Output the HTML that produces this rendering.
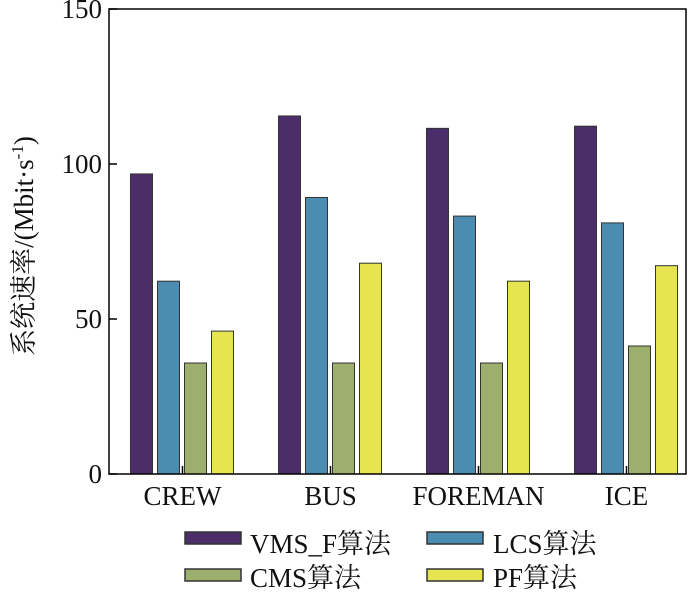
<!DOCTYPE html>
<html><head><meta charset="utf-8"><style>
body{margin:0;background:#fff;width:700px;height:589px;overflow:hidden}
text{font-family:"Liberation Serif","Noto Serif CJK SC",serif;fill:#111}
</style></head><body>
<svg id="chart" width="700" height="589" xmlns="http://www.w3.org/2000/svg"></svg>
<script>
const categories=["CREW","BUS","FOREMAN","ICE"];
const seriesNames=["VMS_F算法","LCS算法","CMS算法","PF算法"];
const vmsValues=[96.8,115.5,111.5,112.2];
const lcsValues=[62.2,89.2,83.2,81];
const cmsValues=[35.8,35.8,35.8,41.3];
const pfValues=[46.1,68,62.2,67.2];
const yTicks=[0,50,100,150];
const colors=["#4b2d69","#4b8cb0","#9caf6c","#e6e450"];
const allSeries=[vmsValues,lcsValues,cmsValues,pfValues];
const NS="http://www.w3.org/2000/svg";
const svg=document.getElementById('chart');
const L=109,R=686,T=9,B=474;
const y=v=>B-(v/150)*(B-T);
const xc=i=>182.5+i*148;
function mk(t,a){const e=document.createElementNS(NS,t);for(const k in a)e.setAttribute(k,a[k]);svg.appendChild(e);return e;}
allSeries.forEach((s,si)=>{s.forEach((v,ci)=>{
 const x=xc(ci)-52+si*27;
 const r=mk('rect',{x:x,y:y(v),width:22,height:B-y(v),fill:colors[si],stroke:'#333','stroke-width':1});
 
 
});});
const box=mk('rect',{x:L,y:T,width:R-L,height:B-T,fill:'none',stroke:'#000','stroke-width':1.5});

yTicks.forEach(t=>{
 mk('line',{x1:L,x2:L+8,y1:y(t),y2:y(t),stroke:'#000','stroke-width':1.5});
 const tx=mk('text',{x:L-7,y:y(t)+9,'text-anchor':'end','font-size':27});tx.textContent=t;
 
});
categories.forEach((c,i)=>{
 mk('line',{x1:xc(i),x2:xc(i),y1:B,y2:B-8,stroke:'#000','stroke-width':1.5});
 const tx=mk('text',{x:xc(i),y:505,'text-anchor':'middle','font-size':27});tx.textContent=c;
 
});
const yt=mk('text',{x:0,y:0,'text-anchor':'middle','font-size':27,transform:'translate(33,246) rotate(-90)'});
yt.innerHTML='系统速率/(Mbit·s<tspan dy="-10" font-size="17">-1</tspan><tspan dy="10">)</tspan>';

const lp=[[185,250,532,553],[427,493,532,553],[185,250,569,587],[427,493,569,587]];
seriesNames.forEach((n,i)=>{
 const [bx,tx,ly,tb]=lp[i];
 const r=mk('rect',{x:bx,y:ly,width:56,height:12,fill:colors[i],stroke:'#333','stroke-width':1.5});
 
 const t=mk('text',{x:tx,y:tb,'font-size':27});t.textContent=n;
 
});
</script>
</body></html>
